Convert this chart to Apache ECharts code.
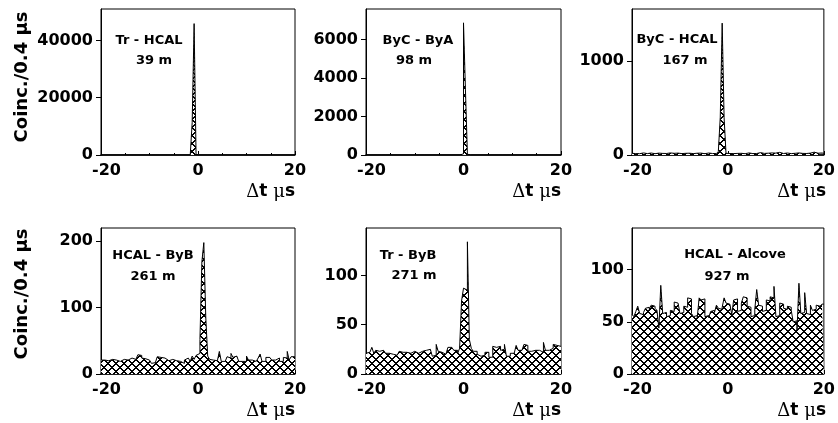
<!DOCTYPE html>
<html>
<head>
<meta charset="utf-8">
<script src="https://cdn.jsdelivr.net/npm/echarts@6/dist/echarts.min.js"></script>
<style>
html, body { margin: 0; padding: 0; background: #fff; }
#chart { width: 838px; height: 423px; }
</style>
</head>
<body>
<div id="chart"></div>
<script>
// 100 bins of 0.4 us from -20 to 20
var binStart = -20;
var binWidth = 0.4;

var trHcal = [
  0,0,0,0,0,0,0,0,0,0,
  0,0,0,0,0,0,0,0,0,0,
  0,0,0,0,0,0,0,0,0,0,
  0,0,0,0,0,0,0,0,0,0,
  0,0,0,0,0,0,350,11300,45900,120,
  0,0,0,0,0,0,0,0,0,0,
  0,0,0,0,0,0,0,0,0,0,
  0,0,0,0,0,0,0,0,0,0,
  0,0,0,0,0,0,0,0,0,0,
  0,0,0,0,0,0,0,0,0,0
];
var bycBya = [
  0,0,0,0,0,0,0,0,0,0,
  0,0,0,0,0,0,0,0,0,0,
  0,0,0,0,0,0,0,0,0,0,
  0,0,0,0,0,0,0,0,0,0,
  0,0,0,0,0,0,0,0,0,60,
  6880,3400,40,0,0,0,0,0,0,0,
  0,0,0,0,0,0,0,0,0,0,
  0,0,0,0,0,0,0,0,0,0,
  0,0,0,0,0,0,0,0,0,0,
  0,0,0,0,0,0,0,0,0,0
];
var bycHcal = [
  18,15,20,14,16,22,17,15,19,21,
  16,14,18,20,25,17,15,16,19,22,
  14,18,16,20,17,15,21,18,16,19,
  22,15,17,19,16,20,18,14,17,21,
  19,16,18,15,22,38,400,1400,395,18,
  16,20,15,19,17,21,18,16,14,19,
  22,17,15,20,16,18,25,21,17,15,
  19,16,22,18,20,17,28,23,16,19,
  21,17,15,20,18,26,22,19,17,21,
  16,24,20,18,30,22,19,25,21,18
];
var hcalByb = [
  21,21,20,20,22,22,20,21,21,19,
  22,22,20,21,21,24,23,22,22,29,
  28,24,23,21,21,19,16,17,19,26,
  25,22,24,21,20,22,22,20,20,22,
  19,19,16,21,24,23,19,27,22,28,
  31,52,169,198,86,27,22,21,20,20,
  20,34,19,19,22,26,24,31,25,27,
  27,19,19,19,19,27,21,21,19,19,
  19,24,30,19,19,25,25,25,21,21,
  24,24,19,19,25,24,34,21,26,26
];
var trByb = [
  21,22,21,27,21,24,23,24,24,23,
  21,21,20,20,19,19,20,23,22,22,
  22,23,21,21,23,23,21,21,23,23,
  24,24,25,27,18,19,30,23,22,20,
  20,21,27,27,26,24,24,21,26,74,
  87,85,134,35,26,23,23,20,18,18,
  19,22,22,17,17,28,27,26,28,24,
  25,30,18,18,21,21,20,29,24,24,
  23,30,29,23,23,22,24,25,24,22,
  22,32,24,24,23,26,30,29,28,28
];
var hcalAlcove = [
  57,55,60,65,58,57,59,63,64,62,
  66,65,63,61,44,85,58,59,55,56,
  61,60,69,68,67,58,59,65,64,73,
  72,58,55,56,54,73,71,72,55,56,
  54,60,61,59,66,63,62,64,73,68,
  67,68,57,71,72,60,61,68,74,73,
  65,64,55,56,62,81,66,65,60,61,
  71,70,74,73,84,55,56,68,67,63,
  62,65,64,61,50,51,42,87,58,59,
  78,58,57,66,61,62,66,65,66,67
];

var panelNames = ['Tr - HCAL', 'ByC - ByA', 'ByC - HCAL', 'HCAL - ByB', 'Tr - ByB', 'HCAL - Alcove'];
var distances = ['39 m', '98 m', '167 m', '261 m', '271 m', '927 m'];
var yMax = [51000, 7600, 1550, 220, 148, 140];
var yTicks = [
  [0, 20000, 40000],
  [0, 2000, 4000, 6000],
  [0, 1000],
  [0, 100, 200],
  [0, 50, 100],
  [0, 50, 100]
];
var xTicks = [-20, 0, 20];

var panelData = [trHcal, bycBya, bycHcal, hcalByb, trByb, hcalAlcove];

// layout of the six frames
var boxes = [
  { left: 101, top: 9, width: 194 },
  { left: 366, top: 9, width: 195 },
  { left: 632, top: 9, width: 194 },
  { left: 101, top: 228, width: 194 },
  { left: 366, top: 228, width: 195 },
  { left: 632, top: 228, width: 194 }
];
var labelPos = [
  [149, 41, 154, 61],
  [418, 41, 414, 61],
  [677, 40, 685, 61],
  [153, 256, 153, 277],
  [408, 256, 414, 276],
  [735, 255, 727, 277]
];

function hatch() {
  var n = 8;
  var c = document.createElement('canvas');
  c.width = n;
  c.height = n;
  var g = c.getContext('2d');
  g.fillStyle = '#fff';
  g.fillRect(0, 0, n, n);
  g.fillStyle = '#000';
  for (var i = 0; i < n; i++) {
    g.fillRect(i, i, 1, 1);
    g.fillRect((i + 1) % n, i, 1, 1);
    g.fillRect(n - 1 - i, i, 1, 1);
    g.fillRect((2 * n - 2 - i) % n, i, 1, 1);
  }
  return c;
}
var pattern = { image: hatch(), repeat: 'repeat' };

// histogram outline: each bin gives its left and right edge at the bin height
function histPoints(vals) {
  var pts = [];
  vals.forEach(function (v, i) {
    pts.push([binStart + i * binWidth, v]);
    pts.push([binStart + (i + 1) * binWidth, v]);
  });
  return pts;
}

var font = 'DejaVu Sans';
var grids = [], xAxes = [], yAxes = [], series = [], graphics = [];

boxes.forEach(function (b, k) {
  grids.push({
    left: b.left, top: b.top, width: b.width, height: 146,
    show: true, borderColor: '#000', borderWidth: 1, backgroundColor: 'transparent'
  });
  xAxes.push({
    type: 'value', gridIndex: k, min: -20, max: 20, interval: 20,
    axisLine: { onZero: false, lineStyle: { color: '#000', width: 1.5 } },
    axisTick: { inside: true, length: 4, lineStyle: { color: '#000' } },
    minorTick: { show: true, splitNumber: 4, length: 2, lineStyle: { color: '#000' } },
    splitLine: { show: false },
    axisLabel: {
      customValues: xTicks, color: '#000', fontSize: 16, fontWeight: 'bold',
      fontFamily: font, margin: 8,
      formatter: function (v) { return v < 0 ? '{m|' + v + '}' : String(v); },
      rich: { m: { fontSize: 16, fontWeight: 'bold', fontFamily: font, color: '#000', padding: [0, 0, 0, 11] } }
    }
  });
  yAxes.push({
    type: 'value', gridIndex: k, min: 0, max: yMax[k], interval: yTicks[k][1],
    axisLine: { show: true, onZero: false, lineStyle: { color: '#000', width: 1 } },
    axisTick: { show: true, length: 5, customValues: yTicks[k], lineStyle: { color: '#000' } },
    splitLine: { show: false },
    axisLabel: {
      customValues: yTicks[k], color: '#000', fontSize: 16, fontWeight: 'bold',
      fontFamily: font, margin: 8,
      formatter: function (v) { return String(v); }
    }
  });
  series.push({
    type: 'line', xAxisIndex: k, yAxisIndex: k,
    data: histPoints(panelData[k]),
    symbol: 'none', silent: true,
    lineStyle: { color: '#000', width: 1 },
    areaStyle: { color: pattern, opacity: 1 }
  });
  var p = labelPos[k];
  graphics.push({
    type: 'text', x: p[0], y: p[1],
    style: { text: panelNames[k], fill: '#000', font: 'bold 13px "' + font + '"', textAlign: 'center', textVerticalAlign: 'middle' }
  });
  graphics.push({
    type: 'text', x: p[2], y: p[3],
    style: { text: distances[k], fill: '#000', font: 'bold 13px "' + font + '"', textAlign: 'center', textVerticalAlign: 'middle' }
  });
  graphics.push({
    type: 'text', x: b.left + b.width, y: b.top + 183,
    style: {
      text: '{g|Δ}t {g|μ}s', fill: '#000', font: 'bold 17px "' + font + '"',
      textAlign: 'right', textVerticalAlign: 'middle',
      rich: { g: { fontFamily: 'DejaVu Serif', fontSize: 18 } }
    }
  });
});

[77, 294].forEach(function (cy) {
  graphics.push({
    type: 'text', x: 22, y: cy, rotation: Math.PI / 2,
    style: { text: 'Coinc./0.4 μs', fill: '#000', font: 'bold 18px "' + font + '"', textAlign: 'center', textVerticalAlign: 'middle' }
  });
});

var myChart = echarts.init(document.getElementById('chart'));
myChart.setOption({
  animation: false,
  backgroundColor: '#fff',
  grid: grids,
  xAxis: xAxes,
  yAxis: yAxes,
  series: series,
  graphic: graphics
});
</script>
</body>
</html>
